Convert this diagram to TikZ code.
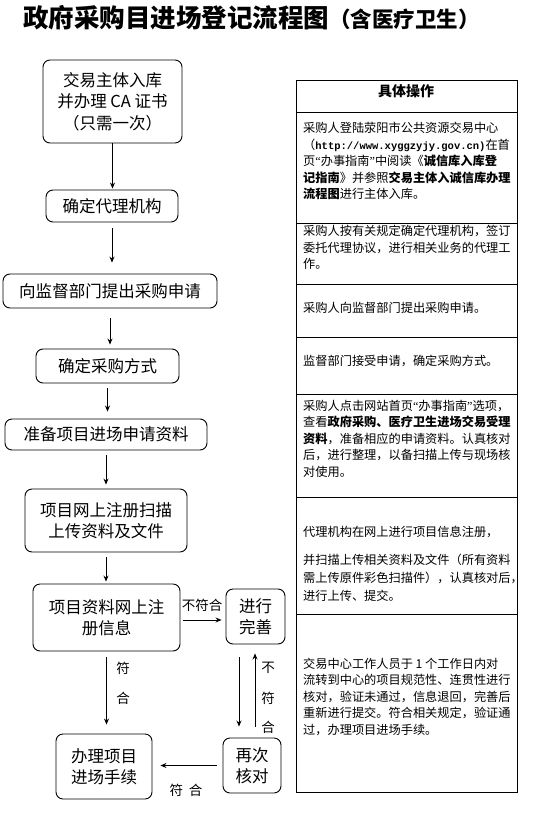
\documentclass[tikz,border=0pt]{standalone}
\usepackage{fontspec}
\setmainfont{Noto Sans CJK SC}
\setmonofont{Liberation Mono}
\newfontfamily\quotefont{Liberation Serif}
\usetikzlibrary{arrows.meta}

\newcommand{\flowfont}{\fontsize{16.5}{21.5}\selectfont}
\newcommand{\opfont}{\fontsize{12.2}{16.4}\selectfont}
\newcommand{\notefont}{\fontsize{13.5}{16}\selectfont}
\newcommand{\qopen}{{\quotefont “}}
\newcommand{\qclose}{{\quotefont ”}}

\tikzset{
    flowbox/.style={draw, rounded corners=7pt, line width=0.9pt, align=center, font=\flowfont, inner sep=2pt},
    oprow/.style={draw, line width=0.8pt, minimum width=221pt, inner sep=0pt},
    optext/.style={anchor=base west, align=left, font=\opfont, inner sep=0pt},
    arr/.style={-{Stealth[length=6pt,width=5pt]}, line width=0.8pt},
    note/.style={font=\notefont, inner sep=0pt}
}

\begin{document}
\begin{tikzpicture}[x=1pt,y=-1pt]
    \useasboundingbox (0,0) rectangle (533,819);
    % title
    \node[anchor=west, inner sep=0pt] (title) at (23,18) {{\fontsize{25.5}{30}\selectfont\bfseries 政府采购目进场登记流程图}{\fontsize{21.5}{24}\selectfont\bfseries （含医疗卫生）}};

    % flow on the left
    \node[flowbox, minimum width=139pt, minimum height=83pt] (b1) at (112.5,101.5) {交易主体入库\\并办理 CA 证书\\（只需一次）};
    \node[flowbox, minimum width=132pt, minimum height=32pt] (b2) at (112,206) {确定代理机构};
    \node[flowbox, minimum width=214pt, minimum height=34pt] (b3) at (110,291) {向监督部门提出采购申请};
    \node[flowbox, minimum width=143pt, minimum height=34pt] (b4) at (107.5,366) {确定采购方式};
    \node[flowbox, minimum width=202pt, minimum height=31pt] (b5) at (106,434.5) {准备项目进场申请资料};
    \node[flowbox, minimum width=162pt, minimum height=63pt] (b6) at (106,520.5) {项目网上注册扫描\\上传资料及文件};
    \node[flowbox, minimum width=147pt, minimum height=67pt] (b7) at (106.5,617.5) {项目资料网上注\\册信息};
    \node[flowbox, minimum width=59pt, minimum height=55pt] (b8) at (255.5,616.5) {进行\\完善};
    \node[flowbox, minimum width=96pt, minimum height=65pt] (b9) at (104,766.5) {办理项目\\进场手续};
    \node[flowbox, minimum width=58pt, minimum height=55pt] (b10) at (252,765.5) {再次\\核对};

    \draw[arr, shorten >=1pt] (b1.south) -- (b1.south |- b2.north);
    \draw[arr, shorten <=6pt, shorten >=11pt] (b2.south) -- (b2.south |- b3.north);
    \draw[arr, shorten <=10pt, shorten >=4pt] (b3.south) -- (b3.south |- b4.north);
    \draw[arr, shorten <=5pt, shorten >=7pt] (b4.south) -- (b4.south |- b5.north);
    \draw[arr, shorten <=5pt, shorten >=4pt] (b5.south) -- (b5.south |- b6.north);
    \draw[arr, shorten <=5pt, shorten >=2pt] (b6.south) -- (b6.south |- b7.north);

    \coordinate (c1) at ([yshift=-2.5pt]b7.east);
    \draw[arr, shorten <=3pt, shorten >=4pt] (c1) -- (c1 -| b8.west);
    \node[note] (n1) at (202,605) {不符合};

    \draw[arr, shorten <=6pt, shorten >=9pt] (b7.south) -- (b7.south |- b9.north);
    \node[note] (n2) at (123,668) {符};
    \node[note] (n3) at (123,698) {合};

    \coordinate (d1) at ([xshift=-16.5pt]b8.south);
    \draw[arr, shorten <=13pt, shorten >=11pt] (d1) -- (d1 |- b10.north);
    \coordinate (d2) at ([xshift=3pt]b10.north);
    \draw[arr, shorten <=11pt, shorten >=9pt] (d2) -- (d2 |- b8.south);
    \node[note] (n4) at (268,668) {不};
    \node[note] (n5) at (268,698) {符};
    \node[note] (n6) at (268,727) {合};

    \draw[arr, shorten <=6pt, shorten >=8pt] (b10.west) -- (b10.west -| b9.east);
    \node[note] (n7) at (186,790) {符\hspace{6pt}合};

    % table on the right
    \node[oprow, minimum height=32pt] (r0) at (406.5,96) {};
    \node[oprow, minimum height=111pt] (r1) at (406.5,167.5) {};
    \node[oprow, minimum height=61pt] (r2) at (406.5,253.5) {};
    \node[oprow, minimum height=53pt] (r3) at (406.5,310.5) {};
    \node[oprow, minimum height=57pt] (r4) at (406.5,365.5) {};
    \node[oprow, minimum height=103pt] (r5) at (406.5,445.5) {};
    \node[oprow, minimum height=117pt] (r6) at (406.5,555.5) {};
    \node[oprow, minimum height=178pt] (r7) at (406.5,703) {};

    % text nodes are placed by the baseline of their last line
    \node[font=\fontsize{14}{16}\selectfont\bfseries, inner sep=0pt] (head) at (406,91) {具体操作};
    \node[optext] (t1) at (303,198.5) {采购人登陆荥阳市公共资源交易中心\\（{\ttfamily\bfseries\fontsize{10.5}{16.4}\selectfont http://www.xyggzyjy.gov.cn)}在首\\页\qopen 办事指南\qclose 中阅读《\textbf{诚信库入库登}\\\textbf{记指南}》并参照\textbf{交易主体入诚信库办理}\\\textbf{流程图}进行主体入库。};
    \node[optext] (t2) at (303,268.5) {采购人按有关规定确定代理机构，签订\\委托代理协议，进行相关业务的代理工\\作。};
    \node[optext] (t3) at (303,312) {采购人向监督部门提出采购申请。};
    \node[optext] (t4) at (303,365) {监督部门接受申请，确定采购方式。};
    \node[optext] (t5) at (303,476) {采购人点击网站首页\qopen 办事指南\qclose 选项，\\查看\textbf{政府采购、医疗卫生进场交易受理}\\\textbf{资料}，准备相应的申请资料。认真核对\\后，进行整理，以备扫描上传与现场核\\对使用。};
    \node[optext] (t6) at (303,600) {代理机构在网上进行项目信息注册，\\[11pt]并扫描上传相关资料及文件（所有资料\\[1.5pt]需上传原件彩色扫描件），认真核对后，\\[1.5pt]进行上传、提交。};
    \node[optext] (t7) at (303,734) {交易中心工作人员于 1 个工作日内对\\流转到中心的项目规范性、连贯性进行\\核对，验证未通过，信息退回，完善后\\重新进行提交。符合相关规定，验证通\\过，办理项目进场手续。};
\end{tikzpicture}
\end{document}
